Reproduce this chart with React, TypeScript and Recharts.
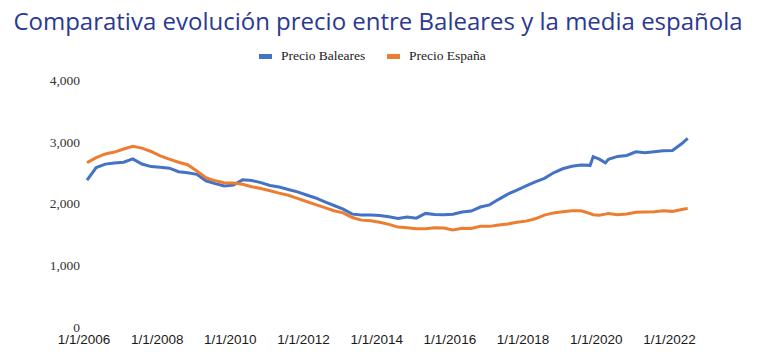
import { LineChart, Line, XAxis, YAxis } from 'recharts';

// fechas (aprox. trimestrales)
const fechas = [
  '2006-02', '2006-05', '2006-08', '2006-11', '2007-02', '2007-05', '2007-08', '2007-11',
  '2008-02', '2008-05', '2008-08', '2008-11', '2009-02', '2009-05', '2009-08', '2009-11',
  '2010-02', '2010-05', '2010-08', '2010-11', '2011-02', '2011-05', '2011-08', '2011-11',
  '2012-02', '2012-05', '2012-08', '2012-11', '2013-02', '2013-05', '2013-08', '2013-11',
  '2014-02', '2014-05', '2014-08', '2014-11', '2015-02', '2015-05', '2015-08', '2015-11',
  '2016-02', '2016-05', '2016-08', '2016-11', '2017-02', '2017-05', '2017-08', '2017-11',
  '2018-02', '2018-05', '2018-08', '2018-11', '2019-02', '2019-05', '2019-08', '2019-11',
  '2019-12', '2020-02', '2020-04', '2020-05', '2020-08', '2020-11',
  '2021-02', '2021-05', '2021-08', '2021-11', '2022-02', '2022-05', '2022-07',
];

const precioBaleares = [
  2410, 2615, 2670, 2690, 2700, 2755, 2672, 2630,
  2618, 2605, 2548, 2530, 2505, 2400, 2355, 2315,
  2330, 2415, 2405, 2370, 2325, 2300, 2260, 2220,
  2170, 2122, 2060, 2000, 1940, 1860, 1846, 1846,
  1838, 1819, 1790, 1812, 1795, 1872, 1855, 1850,
  1858, 1895, 1910, 1975, 2010, 2100, 2185, 2250,
  2318, 2381, 2440, 2530, 2595, 2635, 2655, 2650,
  2790, 2750, 2690, 2748, 2795, 2810,
  2870, 2855, 2870, 2885, 2890, 3000, 3088,
];

const precioEspana = [
  2695, 2775, 2835, 2865, 2915, 2960, 2930, 2875,
  2805, 2750, 2700, 2660, 2560, 2450, 2400, 2370,
  2365, 2345, 2305, 2275, 2240, 2200, 2165, 2115,
  2065, 2015, 1965, 1915, 1880, 1805, 1763, 1754,
  1730, 1695, 1650, 1638, 1622, 1625, 1641, 1635,
  1605, 1630, 1628, 1662, 1662, 1685, 1702, 1727,
  1747, 1785, 1845, 1880, 1897, 1916, 1914, 1870,
  1850, 1842, 1860, 1872, 1850, 1862,
  1892, 1895, 1898, 1915, 1905, 1935, 1950,
];

const ticksAnios = [2006, 2008, 2010, 2012, 2014, 2016, 2018, 2020, 2022];
const ticksPrecio = [0, 1000, 2000, 3000, 4000];

const aAnio = (f: string) => {
  const [y, m] = f.split('-').map(Number);
  return y + (m - 1) / 12;
};

const data = fechas.map((f, i) => ({
  t: aAnio(f),
  baleares: precioBaleares[i],
  espana: precioEspana[i],
}));

const AZUL = '#4472C4';
const NARANJA = '#ED7D31';
const SERIF = '"Liberation Serif", "Times New Roman", serif';

// etiqueta del eje Y, un poco por encima del valor (como en el original)
const TickPrecio = (props: any) => {
  const { x, y, payload } = props;
  return (
    <text x={x} y={y - 2} dy="0.355em" textAnchor="end" fill="#333" fontSize={13.5} fontFamily={SERIF}>
      {Number(payload.value).toLocaleString('en-US')}
    </text>
  );
};

export default function App() {
  return (
    <div style={{ position: 'fixed', left: 0, top: 0, width: 768, height: 362, background: '#fff' }}>
      <LineChart width={768} height={362} data={data} margin={{ top: 82, right: 62, bottom: 3, left: 24 }}>
        <XAxis
          dataKey="t"
          type="number"
          domain={[2006, 2023]}
          ticks={ticksAnios}
          interval={0}
          tickFormatter={(v) => `1/1/${v}`}
          axisLine={false}
          tickLine={false}
          tickSize={0}
          tickMargin={5}
          height={30}
          tick={{ fill: '#1a1a1a', fontSize: 13.5, fontFamily: '"Liberation Sans", Arial, sans-serif' }}
        />
        <YAxis
          domain={[0, 4000]}
          ticks={ticksPrecio}
          interval={0}
          axisLine={false}
          tickLine={false}
          tickSize={0}
          tickMargin={4}
          width={60}
          tick={TickPrecio}
        />
        <Line type="linear" dataKey="baleares" stroke={AZUL} strokeWidth={3} dot={false} isAnimationActive={false} />
        <Line type="linear" dataKey="espana" stroke={NARANJA} strokeWidth={3} dot={false} isAnimationActive={false} />
      </LineChart>
      <svg width={768} height={362} style={{ position: 'absolute', left: 0, top: 0, pointerEvents: 'none' }}>
        <text x={378} y={30} textAnchor="middle" fontFamily='"Open Sans", sans-serif' fontSize={24} fill="#2b3990">
          Comparativa evolución precio entre Baleares y la media española
        </text>
        <rect x={259} y={54} width={13} height={5} fill={AZUL} />
        <text x={281} y={60} fontFamily={SERIF} fontSize={13.5} fill="#222">Precio Baleares</text>
        <rect x={387} y={54} width={13} height={5} fill={NARANJA} />
        <text x={409} y={60} fontFamily={SERIF} fontSize={13.5} fill="#222">Precio España</text>
      </svg>
    </div>
  );
}
